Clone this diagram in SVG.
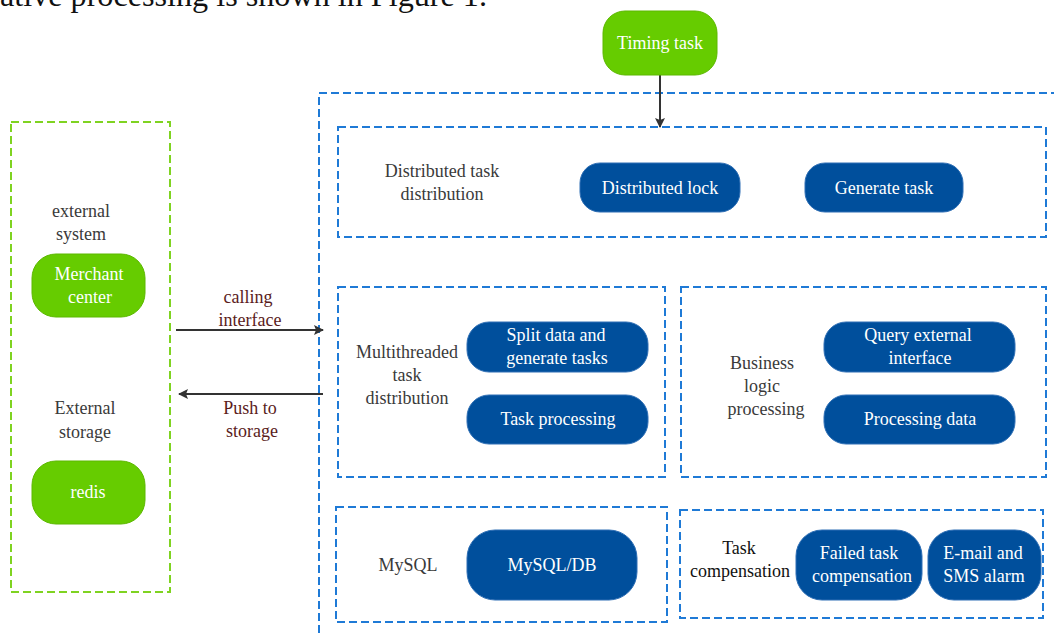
<svg xmlns="http://www.w3.org/2000/svg" width="1054" height="636" viewBox="0 0 1054 636" font-family="'Liberation Serif', 'Times New Roman', serif">
<defs>
<marker id="ah" markerWidth="10" markerHeight="10" refX="9" refY="5" orient="auto" markerUnits="userSpaceOnUse">
<path d="M0,0 L10,5 L0,10 L2,5 Z" fill="#333"/>
</marker>
</defs>
<style>
text{font-family:'Liberation Serif','Times New Roman',serif;font-size:18px;text-anchor:middle}
.lbl{fill:#3a3a3a}
.red{fill:#5a1c1c}
.nt{fill:#fff;font-size:18px}
.g{fill:#66cc00;stroke:#5cb800;stroke-width:1}
.b{fill:#004f9c;stroke:#2f6fb5;stroke-width:1}
.bd{fill:none;stroke:#1f7ad6;stroke-width:2;stroke-dasharray:8 4}
.gd{fill:none;stroke:#7fd321;stroke-width:2;stroke-dasharray:8 4}
.conn{stroke:#333;stroke-width:2;fill:none}
</style>
<rect width="1054" height="636" fill="#fff"/>
<text x="0" y="6" style="font-size:32px;text-anchor:start" fill="#111" textLength="487" lengthAdjust="spacingAndGlyphs">ative processing is shown in Figure 1.</text>

<g id="containers">
<rect class="bd" x="319" y="93" width="760" height="560"/>
<rect class="gd" x="11" y="122" width="159" height="470"/>
<rect class="bd" x="338" y="127" width="708" height="110"/>
<rect class="bd" x="338" y="287" width="327" height="190"/>
<rect class="bd" x="681" y="287" width="365" height="190"/>
<rect class="bd" x="336" y="507" width="331" height="115"/>
<rect class="bd" x="680" y="510" width="363" height="108"/>
</g>

<g id="labels">
<text class="lbl" x="442" y="177">Distributed task</text>
<text class="lbl" x="442" y="200">distribution</text>
<text class="lbl" x="407" y="358">Multithreaded</text>
<text class="lbl" x="407" y="381">task</text>
<text class="lbl" x="407" y="404">distribution</text>
<text class="lbl" x="762" y="369">Business</text>
<text class="lbl" x="762" y="392">logic</text>
<text class="lbl" x="766" y="415">processing</text>
<text class="lbl" x="408" y="571">MySQL</text>
<text x="739" y="554" fill="#111">Task</text>
<text x="740" y="577" fill="#111">compensation</text>
<text class="lbl" x="81" y="217">external</text>
<text class="lbl" x="81" y="240">system</text>
<text class="lbl" x="85" y="414">External</text>
<text class="lbl" x="85" y="438">storage</text>
<text class="red" x="248" y="303">calling</text>
<text class="red" x="250" y="326">interface</text>
<text class="red" x="250" y="414">Push to</text>
<text class="red" x="252" y="437">storage</text>
</g>

<g id="connectors">
<line class="conn" x1="660" y1="75" x2="660" y2="127" marker-end="url(#ah)"/>
<line class="conn" x1="176" y1="330" x2="323" y2="330" marker-end="url(#ah)"/>
<line class="conn" x1="323" y1="394" x2="179" y2="394" marker-end="url(#ah)"/>
</g>

<g id="timing-task"><rect class="g" x="603" y="11" width="114" height="64" rx="22"/><text class="nt" x="660" y="49">Timing task</text></g>
<g id="distributed-lock"><rect class="b" x="580" y="163" width="160" height="49" rx="20"/><text class="nt" x="660" y="194">Distributed lock</text></g>
<g id="generate-task"><rect class="b" x="805" y="163" width="158" height="49" rx="20"/><text class="nt" x="884" y="194">Generate task</text></g>
<g id="split-data"><rect class="b" x="467" y="322" width="181" height="50" rx="22"/><text class="nt" x="556" y="341">Split data and</text><text class="nt" x="557" y="364">generate tasks</text></g>
<g id="task-processing"><rect class="b" x="467" y="395" width="181" height="49" rx="22"/><text class="nt" x="558" y="425">Task processing</text></g>
<g id="query-external"><rect class="b" x="824" y="322" width="191" height="50" rx="22"/><text class="nt" x="918" y="341">Query external</text><text class="nt" x="920" y="364">interface</text></g>
<g id="processing-data"><rect class="b" x="824" y="395" width="191" height="49" rx="22"/><text class="nt" x="920" y="425">Processing data</text></g>
<g id="mysql-db"><rect class="b" x="467" y="530" width="170" height="70" rx="28"/><text class="nt" x="552" y="571">MySQL/DB</text></g>
<g id="failed-task"><rect class="b" x="796" y="530" width="126" height="70" rx="26"/><text class="nt" x="859" y="559">Failed task</text><text class="nt" x="862" y="582">compensation</text></g>
<g id="email-sms"><rect class="b" x="928" y="530" width="113" height="70" rx="26"/><text class="nt" x="983" y="559">E-mail and</text><text class="nt" x="984" y="582">SMS alarm</text></g>
<g id="merchant-center"><rect class="g" x="32" y="254" width="113" height="63" rx="24"/><text class="nt" x="89" y="280">Merchant</text><text class="nt" x="90" y="303">center</text></g>
<g id="redis"><rect class="g" x="32" y="461" width="113" height="63" rx="24"/><text class="nt" x="88" y="498">redis</text></g>
</svg>
